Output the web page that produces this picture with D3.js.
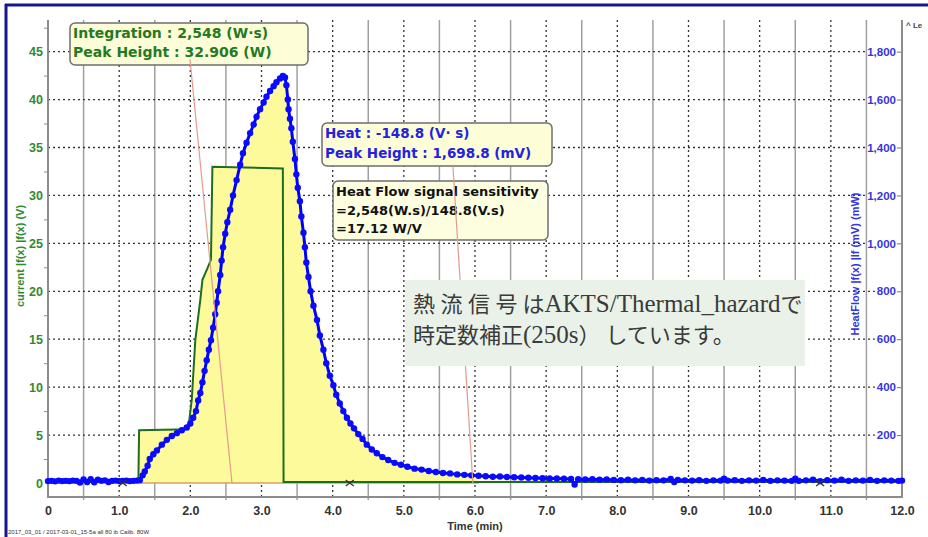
<!doctype html>
<html>
<head>
<meta charset="utf-8">
<script src="https://cdn.jsdelivr.net/npm/d3@7"></script>
<style>
  body { margin: 0; background: #fff; }
  svg { display: block; }
</style>
</head>
<body>
<svg id="chart" width="928" height="537"></svg>
<script>
// heat flow signal (mV), time in min
const heatTime = [
  0, 0.05, 0.1, 0.15, 0.2, 0.25, 0.3, 0.35, 0.4, 0.45, 0.5, 0.55, 0.6, 0.65, 0.7, 0.75, 0.8, 0.85, 0.9, 0.95,
  1.0, 1.05, 1.1, 1.15, 1.2, 1.25,
  1.29, 1.33, 1.36, 1.40, 1.43, 1.48, 1.53, 1.60, 1.67, 1.74, 1.81, 1.88, 1.95, 2.00, 2.04, 2.08, 2.11, 2.14,
  2.17, 2.20, 2.23, 2.26, 2.29, 2.32, 2.35, 2.37, 2.39, 2.42, 2.44, 2.46, 2.49, 2.52, 2.56, 2.60, 2.65, 2.70,
  2.74, 2.79, 2.84, 2.89, 2.93, 2.98, 3.03, 3.07, 3.12, 3.17, 3.21, 3.26, 3.30, 3.33, 3.35, 3.37, 3.38, 3.40,
  3.42, 3.44, 3.47, 3.49, 3.51, 3.54, 3.56, 3.59, 3.61, 3.63, 3.66, 3.69, 3.73, 3.78, 3.82, 3.87, 3.91, 3.96,
  4.01, 4.05, 4.10, 4.15, 4.20, 4.25, 4.30, 4.36, 4.42, 4.48, 4.55, 4.62, 4.70, 4.78, 4.87, 4.96, 5.05, 5.15,
  5.25, 5.35, 5.45, 5.55, 5.65, 5.75, 5.85, 5.95, 6.05,
  6.15, 6.25, 6.35, 6.45, 6.55, 6.65, 6.75, 6.85, 6.95, 7.05, 7.15, 7.25, 7.35, 7.40, 7.45, 7.55, 7.65, 7.75,
  7.85, 7.95, 8.05, 8.15, 8.25, 8.35, 8.45, 8.55, 8.65, 8.75, 8.80, 8.85, 8.95, 9.05, 9.15, 9.25, 9.35, 9.45,
  9.50, 9.55, 9.65, 9.75, 9.85, 9.95, 10.05, 10.15, 10.25, 10.35, 10.45, 10.50, 10.55, 10.65, 10.75, 10.85,
  10.95, 11.05, 11.15, 11.25, 11.35, 11.45, 11.55, 11.65, 11.75, 11.85, 11.95, 12.0
];
const heatFlow = [
  8, 9, 7, 10, 8, 9, 8, 10, 9, 2, 15, 4, 16, 3, 14, 9, 11, 4, 9, 10,
  8, 9, 10, 8, 9, 10,
  12, 32, 48, 72, 100, 120, 136, 160, 180, 196, 208, 220, 232, 248, 272, 300, 344, 376,
  420, 468, 512, 556, 596, 648, 704, 752, 800, 868, 928, 984, 1040, 1088, 1140, 1200, 1264, 1328,
  1376, 1420, 1460, 1496, 1528, 1560, 1588, 1612, 1636, 1656, 1672, 1688, 1699, 1692, 1660, 1600, 1560, 1520,
  1480, 1424, 1352, 1288, 1232, 1176, 1112, 1044, 984, 920, 860, 800, 740, 680, 616, 556, 500, 448,
  408, 368, 332, 300, 272, 248, 228, 204, 184, 160, 140, 124, 108, 96, 84, 76, 68, 60,
  56, 50, 46, 42, 40, 36, 34, 32, 30,
  28, 26, 27, 25, 24, 23, 22, 21, 20, 19, 19, 18, 17, -6, 16, 15, 16, 14,
  15, 13, 12, 14, 11, 13, 10, 12, 11, 17, 4, 13, 11, 10, 12, 9, 11, 10,
  18, 10, 12, 9, 11, 10, 13, 9, 11, 10, 9, 18, 9, 11, 14, 8,
  12, 10, 14, 9, 11, 10, 13, 9, 11, 10, 9, 10
];

// current (V), stepwise
const currentTime = [0, 1.27, 1.28, 1.97, 2.02, 2.07, 2.14, 2.17, 2.24, 2.29, 2.31, 3.30, 3.31, 12];
const currentVolt = [0.1, 0.1, 5.5, 5.6, 8.7, 14.9, 19.1, 21.2, 22.4, 23.3, 33.0, 32.8, 0.1, 0.1];

const leftTicks = [0, 5, 10, 15, 20, 25, 30, 35, 40, 45];
const rightTicks = [200, 400, 600, 800, 1000, 1200, 1400, 1600, 1800];
const timeTicks = [0, 1, 2, 3, 4, 5, 6, 7, 8, 9, 10, 11, 12];
const crossMarks = [1.05, 4.24, 10.85];
// leader lines [t1, v1, t2, v2] in left-axis units
const leaders = [[1.995, 44.2, 2.585, 0], [5.69, 33.0, 5.97, 0]];

const svg = d3.select("#chart");
const x = d3.scaleLinear().domain([0, 12]).range([48, 902]);
const yL = d3.scaleLinear().domain([-1.46, 48.3]).range([497, 20]);
const yR = d3.scaleLinear().domain([-58.4, 1932]).range([497, 20]);

// outer frame
svg.append("line").attr("x1", 5).attr("x2", 928).attr("y1", 5).attr("y2", 5)
  .attr("stroke", "#16168c").attr("stroke-width", 3);
svg.append("line").attr("x1", 6).attr("x2", 6).attr("y1", 4).attr("y2", 537)
  .attr("stroke", "#16168c").attr("stroke-width", 3);

// grid
const grid = svg.append("g");
d3.range(0.5, 12, 1).forEach(t => {
  grid.append("line").attr("x1", x(t)).attr("x2", x(t)).attr("y1", 20).attr("y2", 500)
    .attr("stroke", "#a0a0a0").attr("stroke-width", 1.5);
});
timeTicks.slice(1, -1).forEach(t => {
  grid.append("line").attr("x1", x(t)).attr("x2", x(t)).attr("y1", 20).attr("y2", 497)
    .attr("stroke", "#333").attr("stroke-width", 1.3).attr("stroke-dasharray", "2,3");
});

// right axis first so grid can stop before its labels
const rAxis = svg.append("g").attr("transform", "translate(902,0)")
  .call(d3.axisLeft(yR).tickValues(rightTicks).tickFormat(d3.format(",")).tickSize(5).tickPadding(1));
rAxis.select(".domain").remove();
rAxis.selectAll("line").attr("stroke", "#777");
rAxis.selectAll("text").attr("fill", "#3535e0").attr("font-family", "Liberation Sans, Arial, sans-serif")
  .attr("font-weight", "bold").attr("font-size", 11.5);

leftTicks.slice(1).forEach((v, i) => {
  const w = rAxis.selectAll("text").nodes()[i].getComputedTextLength();
  grid.append("line").attr("x1", 48).attr("x2", 896 - w - 2).attr("y1", yL(v)).attr("y2", yL(v))
    .attr("stroke", "#333").attr("stroke-width", 1.3).attr("stroke-dasharray", "2,3");
});

// yellow integration areas
const blueArea = heatTime.map((t, i) => [t, heatFlow[i]]).filter(d => d[0] >= 1.25 && d[0] <= 6.05);
svg.append("path").datum(blueArea)
  .attr("d", d3.area().x(d => x(d[0])).y0(yR(0)).y1(d => yR(Math.max(d[1], 0))))
  .attr("fill", "#fdfa9c");
const greenArea = currentTime.map((t, i) => [t, currentVolt[i]]).filter(d => d[0] >= 1.27 && d[0] <= 3.31);
svg.append("path").datum(greenArea)
  .attr("d", d3.area().x(d => x(d[0])).y0(yL(0)).y1(d => yL(d[1])))
  .attr("fill", "#fdfa9c");

// baseline
svg.append("line").attr("x1", x(1.27)).attr("x2", x(6.05)).attr("y1", yL(0)).attr("y2", yL(0))
  .attr("stroke", "#d6a060").attr("stroke-width", 1.5);

// axes frame
const axisCol = "#8c8c8c";
svg.append("line").attr("x1", 48).attr("x2", 48).attr("y1", 20).attr("y2", 498).attr("stroke", axisCol).attr("stroke-width", 2);
svg.append("line").attr("x1", 902).attr("x2", 902).attr("y1", 20).attr("y2", 498).attr("stroke", axisCol).attr("stroke-width", 2);
svg.append("line").attr("x1", 47).attr("x2", 903).attr("y1", 497).attr("y2", 497).attr("stroke", axisCol).attr("stroke-width", 2);

// left axis
const lAxis = svg.append("g").attr("transform", "translate(48,0)")
  .call(d3.axisLeft(yL).tickValues(leftTicks).tickSize(0).tickPadding(5));
lAxis.select(".domain").remove();
lAxis.selectAll("text").attr("fill", "#2f8a2f").attr("font-family", "Liberation Sans, Arial, sans-serif")
  .attr("font-weight", "bold").attr("font-size", 12.5);
const minor = svg.append("g").attr("transform", "translate(48,0)")
  .call(d3.axisLeft(yL).tickValues(d3.range(2.5, 48, 5)).tickSize(4).tickFormat(""));
minor.select(".domain").remove();
minor.selectAll("line").attr("stroke", axisCol);

// bottom axis
const bAxis = svg.append("g").attr("transform", "translate(0,497)")
  .call(d3.axisBottom(x).tickValues(timeTicks).tickFormat(d => d === 0 ? "0" : d.toFixed(1)).tickSize(0).tickPadding(9));
bAxis.select(".domain").remove();
bAxis.selectAll("text").attr("fill", "#333").attr("font-family", "Liberation Sans, Arial, sans-serif")
  .attr("font-weight", "bold").attr("font-size", 12.5);

// axis titles
svg.append("text").attr("x", 475).attr("y", 530).attr("text-anchor", "middle")
  .attr("font-family", "Liberation Sans, Arial, sans-serif").attr("font-weight", "bold").attr("font-size", 11)
  .attr("fill", "#333").text("Time (min)");
svg.append("text").attr("transform", "translate(24,256) rotate(-90)").attr("text-anchor", "middle")
  .attr("font-family", "Liberation Sans, Arial, sans-serif").attr("font-weight", "bold").attr("font-size", 11)
  .attr("fill", "#2f8a2f").text("current |f(x) |f(x) (V)");
svg.append("text").attr("transform", "translate(859,264) rotate(-90)").attr("text-anchor", "middle")
  .attr("font-family", "Liberation Sans, Arial, sans-serif").attr("font-weight", "bold").attr("font-size", 11)
  .attr("fill", "#3535e0").text("HeatFlow |f(x) |lf  (mV) (mW)");

// current step line
svg.append("path").datum(currentTime.map((t, i) => [t, currentVolt[i]]))
  .attr("d", d3.line().x(d => x(d[0])).y(d => yL(d[1])))
  .attr("fill", "none").attr("stroke", "#1f6e1f").attr("stroke-width", 2);

// heat flow line + dots
const heatPts = heatTime.map((t, i) => [t, heatFlow[i]]);
svg.append("path").datum(heatPts)
  .attr("d", d3.line().x(d => x(d[0])).y(d => yR(d[1])))
  .attr("fill", "none").attr("stroke", "#0000ff").attr("stroke-width", 3);
svg.append("g").selectAll("circle").data(heatPts).join("circle")
  .attr("cx", d => x(d[0])).attr("cy", d => yR(d[1])).attr("r", 3.2)
  .attr("fill", "#0a0aff");

// integration limit crosses
svg.append("g").selectAll("path").data(crossMarks).join("path")
  .attr("d", t => `M${x(t) - 4},${yL(0) - 3}L${x(t) + 4},${yL(0) + 3}M${x(t) - 4},${yL(0) + 3}L${x(t) + 4},${yL(0) - 3}`)
  .attr("stroke", "#333").attr("stroke-width", 1.3);

// annotation boxes
function note(bx, by, bw, bh, lines, color, size, fill, stroke) {
  const g = svg.append("g");
  g.append("rect").attr("x", bx).attr("y", by).attr("width", bw).attr("height", bh)
    .attr("rx", 5).attr("fill", fill).attr("stroke", stroke).attr("stroke-width", 1.5);
  lines.forEach((l, i) => {
    g.append("text").attr("x", bx + 3).attr("y", l[1])
      .attr("font-family", "DejaVu Sans, Verdana, sans-serif").attr("font-weight", "bold")
      .attr("font-size", size).attr("fill", color).text(l[0]);
  });
}
note(70, 23, 238, 42, [["Integration : 2,548 (W·s)", 38], ["Peak Height : 32.906 (W)", 57]], "#237a23", 14, "#fdfdd8", "#6e6e6e");
note(322, 123, 230, 43, [["Heat : -148.8 (V· s)", 138], ["Peak Height : 1,698.8 (mV)", 158]], "#2323dd", 13.5, "#fdfdd8", "#6e6e6e");
note(333, 181, 215, 59, [["Heat Flow signal sensitivity", 196], ["=2,548(W.s)/148.8(V.s)", 215], ["=17.12 W/V", 233]], "#111", 13, "#fdfde0", "#6e6e6e");

// leader lines
svg.append("g").selectAll("line").data(leaders).join("line")
  .attr("x1", d => x(d[0])).attr("y1", d => yL(d[1])).attr("x2", d => x(d[2])).attr("y2", d => yL(d[3]))
  .attr("stroke", "#e59a8e").attr("stroke-width", 1.2);

// japanese note
svg.append("rect").attr("x", 405).attr("y", 280).attr("width", 400).attr("height", 86).attr("fill", "#e9f1e8");
const jp = svg.append("g").attr("font-family", "Liberation Serif, Noto Sans CJK JP, serif").attr("fill", "#3a3a3a");
const t1 = jp.append("text").attr("x", 413).attr("y", 312).attr("font-size", 22);
t1.append("tspan").attr("font-family", "Noto Sans CJK JP").text("熱");
t1.append("tspan").text(" ");
t1.append("tspan").attr("font-family", "Noto Sans CJK JP").text("流");
t1.append("tspan").text(" ");
t1.append("tspan").attr("font-family", "Noto Sans CJK JP").text("信");
t1.append("tspan").text(" ");
t1.append("tspan").attr("font-family", "Noto Sans CJK JP").text("号 は");
t1.append("tspan").attr("font-size", 25).text("AKTS/Thermal_hazard");
t1.append("tspan").attr("font-family", "Noto Sans CJK JP").text("で");
const t2 = jp.append("text").attr("x", 413).attr("y", 343).attr("font-size", 22);
t2.append("tspan").attr("font-family", "Noto Sans CJK JP").text("時定数補正");
t2.append("tspan").attr("font-size", 25).text("(250s");
t2.append("tspan").attr("font-family", "Noto Sans CJK JP").text("） しています。");

// small captions
svg.append("text").attr("x", 8).attr("y", 534).attr("font-family", "Liberation Sans, Arial, sans-serif")
  .attr("font-size", 6).attr("fill", "#333").text("2017_03_01 / 2017-03-01_15-5a all 80 ib Calib. 80W");
svg.append("text").attr("x", 906).attr("y", 28).attr("font-family", "Liberation Sans, Arial, sans-serif")
  .attr("font-size", 8).attr("font-weight", "bold").attr("fill", "#444").text("^ Le");
</script>
</body>
</html>
